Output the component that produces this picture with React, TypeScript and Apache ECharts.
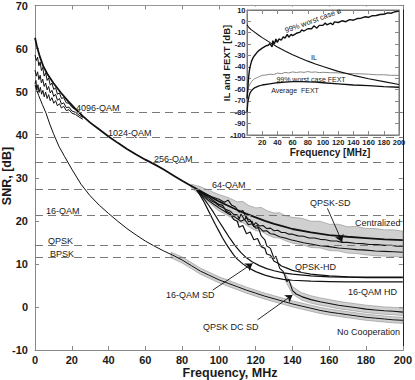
import { useEffect, useRef } from "react";
import * as echarts from "echarts";

type P = [number, number];

// ---------- main chart data (Frequency MHz, SNR dB) ----------
const thresholdNames = ["4096-QAM", "1024-QAM", "256-QAM", "64-QAM", "16-QAM", "QPSK", "BPSK"];
const thresholdValues = [45.3, 39.5, 33.5, 27.4, 21.35, 14.4, 11.45];

const centralized: P[] = [[0,62.5],[1,60.6],[2.5,58.3],[4.5,55.9],[7,53.9],[10,52],[14,49.8],[18,47.8],[22,46],[26,44.3],[30,42.8],[35,41.2],[40,39.6],[45,38.1],[50,36.7],[55,35.4],[60,34.2],[65,33.1],[70,31.9],[75,30.6],[80,29.3],[85,28.1],[90,26.9],[95,25.7],[100,24.5],[105,23.5],[110,22.5],[115,21.6],[120,20.8],[125,20.0],[130,19.3],[135,18.7],[140,18.1],[150,17.3],[160,16.7],[170,16.3],[180,16.0],[190,15.7],[200,15.5]];

const qpskSd: P[] = [[88,27.3],[90,26.6],[92,26.0],[94,25.2],[96,24.6],[98,24.2],[100,23.5],[102,23.1],[104,22.6],[106,22.3],[108,21.5],[110,21.4],[111,20.4],[112,21.6],[114,20.2],[115,21.0],[116,19.8],[118,19.9],[119,19.0],[120,19.6],[122,18.8],[124,18.9],[126,18.2],[128,18.3],[130,17.7],[132,17.8],[134,17.3],[136,17.3],[138,16.9],[140,16.9],[143,16.5],[146,16.4],[149,16.0],[152,16.0],[155,15.7],[158,15.6],[161,15.3],[164,15.3],[167,15.0],[170,15.0],[174,14.8],[178,14.7],[182,14.5],[186,14.5],[190,14.3],[194,14.3],[197,14.1],[200,14.1]];

const sdLower: P[] = [[88,27.2],[91,26.0],[94,24.8],[97,23.9],[100,23.0],[103,22.2],[106,21.4],[109,20.8],[112,19.9],[114,20.3],[116,19.1],[118,19.3],[120,18.3],[122,18.4],[124,17.6],[126,17.7],[128,17.0],[130,16.9],[133,16.3],[136,16.0],[139,15.6],[142,15.3],[146,14.9],[150,14.6],[155,14.2],[160,14.0],[165,13.7],[170,13.5],[175,13.3],[180,13.2],[185,13.0],[190,12.9],[195,12.8],[200,12.7]];

const qam16Hd: P[] = [[88,27.1],[90,25.8],[92,24.3],[94,22.6],[96,20.9],[98,19.2],[100,17.6],[102,16.0],[104,14.6],[106,13.3],[108,12.1],[110,11.1],[113,10.0],[116,9.1],[120,8.2],[125,7.4],[130,6.8],[135,6.4],[140,6.2],[150,6.0],[160,5.9],[170,5.8],[180,5.8],[190,5.8],[200,5.8]];

const qam16Sd: P[] = [[88,27.1],[91,25.6],[94,23.9],[97,22.0],[100,19.9],[103,17.9],[106,15.9],[109,14.1],[112,12.6],[115,11.4],[118,10.5],[122,9.6],[126,8.9],[130,8.4],[135,7.9],[140,7.6],[150,7.2],[160,7.0],[170,6.9],[180,6.8],[190,6.8],[200,6.8]];

const qpskHd: P[] = [[88,27.1],[92,26.2],[96,25.0],[100,23.8],[102,23.6],[104,22.2],[106,21.8],[108,20.3],[110,19.9],[111,18.5],[113,18.9],[115,17.0],[117,17.4],[119,15.6],[121,15.9],[123,14.0],[125,13.6],[126,12.3],[128,12.0],[130,10.6],[132,10.2],[134,9.5],[137,9.0],[140,8.5],[145,8.0],[150,7.6],[160,7.2],[170,7.0],[180,6.9],[190,6.9],[200,6.9]];

const qpskDcSd: P[] = [[88,27.1],[92,26.4],[96,25.6],[100,25.0],[103,24.3],[105,24.8],[107,23.6],[109,23.2],[111,22.0],[113,22.4],[115,20.6],[117,20.2],[119,18.6],[121,18.9],[123,16.5],[125,15.6],[126,14.2],[128,13.6],[130,11.2],[131,11.8],[133,9.0],[135,8.2],[137,5.9],[138,6.4],[140,3.8],[142,3.0],[145,2.4],[150,1.7],[155,1.2],[160,0.8],[165,0.4],[170,0.1],[175,-0.2],[180,-0.5],[185,-0.7],[190,-0.9],[195,-1.0],[200,-1.2]];

const noCooperation: P[] = [[0,51.5],[1,50.3],[2,49.1],[4,47],[6,45],[8,42.5],[10,40.3],[13,37.3],[16,35],[20,32.0],[25,28.5],[30,25.8],[35,23.6],[40,21.7],[45,19.9],[50,18.2],[55,16.7],[60,15.3],[65,14.1],[70,13.0],[75,12.0],[80,10.9],[85,9.6],[90,8.3],[95,7.3],[100,6.3],[105,5.5],[110,4.7],[115,3.9],[120,3.2],[125,2.5],[130,1.9],[135,1.3],[140,0.7],[145,0.2],[150,-0.3],[155,-0.8],[160,-1.2],[165,-1.5],[170,-1.8],[175,-2.1],[180,-2.4],[185,-2.6],[190,-2.8],[195,-3.0],[200,-3.1]];

const coopA: P[] = [[0,58.5],[0.7,57.2],[1.4,58.0],[2.1,56.0],[2.8,56.9],[3.5,54.9],[4.2,55.6],[5,53.6],[5.8,54.4],[6.6,52.6],[7.4,53.2],[8.3,51.5],[9.2,52.0],[10.2,50.5],[11.2,50.9],[12.2,49.4],[13.3,49.7],[14.4,48.4],[15.6,48.6],[17,47.4],[18.5,47.3],[20,46.4],[22,45.8],[24,45.0],[26,44.2]];
const coopB: P[] = [[0,55],[0.7,53.6],[1.4,54.6],[2.1,52.8],[2.8,53.8],[3.5,52.0],[4.2,52.9],[5,51.2],[5.8,52.0],[6.6,50.4],[7.4,51.2],[8.3,49.7],[9.2,50.3],[10.2,48.9],[11.2,49.4],[12.2,48.0],[13.3,48.4],[14.4,47.1],[15.6,47.4],[17,46.3],[18.5,46.4],[20,45.5],[22,45.2],[24,44.5],[26,44.0]];
const coopC: P[] = [[0,51.8],[0.5,52.6],[1.0,50.4],[1.6,51.6],[2.2,49.8],[2.9,51.0],[3.6,49.4],[4.3,50.3],[5,48.8],[5.8,49.9],[6.6,48.4],[7.4,49.3],[8.3,47.9],[9.2,48.6],[10.2,47.3],[11.2,47.9],[12.2,46.7],[13.3,47.2],[14.4,46.2],[15.6,46.6],[17,45.6],[18.5,45.8],[20,45.0],[22,44.7],[24,44.1],[26,43.6]];

// confidence bands (x, lower, upper)
const centralBandX = [85,90,95,100,105,110,113,116,120,123,126,130,133,136,140,145,150,155,160,165,170,175,180,185,190,195,200];
const centralBandUpper = [28.5,27.9,27.0,26.1,25.4,24.4,24.5,23.6,23.0,23.1,22.4,21.8,21.9,21.2,20.8,20.6,19.9,19.9,19.2,19.2,18.6,18.7,18.2,18.2,17.9,17.9,17.6];
const centralBandLower = [27.6,26.0,24.1,22.3,21.2,19.8,19.6,18.7,17.7,17.6,16.8,16.1,16.0,15.4,14.8,14.5,13.8,13.7,13.1,13.0,12.5,12.4,12.1,11.9,11.8,11.7,11.6];

const noCoopBandX = [74,80,85,90,95,100,105,110,115,120,125,130,135,140,145,150,155,160,165,170,175,180,185,190,195,200];
const noCoopBandUpper = [12.7,11.6,10.3,9.0,8.0,7.0,6.2,5.4,4.6,3.9,3.2,2.6,2.0,1.4,0.9,0.4,-0.1,-0.5,-0.8,-1.1,-1.4,-1.7,-1.9,-2.1,-2.3,-2.4];
const noCoopBandLower = [11.4,10.2,8.9,7.6,6.6,5.6,4.8,4.0,3.2,2.5,1.8,1.2,0.6,0.0,-0.5,-1.0,-1.5,-1.9,-2.2,-2.5,-2.8,-3.1,-3.3,-3.5,-3.7,-3.8];

const dcBandX = [136,140,145,150,155,160,165,170,175,180,185,190,195,200];
const dcBandUpper = [7.8,4.7,3.3,2.6,2.1,1.7,1.3,1.0,0.7,0.4,0.2,0.0,-0.1,-0.3];
const dcBandLower = [6.2,3.0,1.6,0.9,0.4,0.0,-0.4,-0.7,-1.0,-1.3,-1.5,-1.7,-1.8,-2.0];

// arrows: [fromX, fromY, toX, toY] in data units
const arrowQpskSd = [159, 22.9, 167, 15.1];
const arrowQam16Sd = [96.6, 3.9, 118.3, 10.1];
const arrowQpskDcSd = [121, -3.0, 140, 2.8];

const curveLabels = ["QPSK-SD", "Centralized", "QPSK-HD", "16-QAM HD", "16-QAM SD", "QPSK DC SD", "No Cooperation"];

// ---------- inset data (Frequency MHz, dB) ----------
const insetIL: P[] = [[0,-3],[2,-5],[5,-7],[10,-9.5],[15,-12],[20,-14.3],[30,-18.5],[40,-22.5],[50,-26],[60,-29.3],[70,-32.3],[80,-35],[90,-37.5],[100,-39.8],[120,-44],[140,-47.5],[160,-50.5],[180,-53],[200,-55.5]];
const insetAlpha99: P[] = [[0,-68],[1,-60],[2,-50],[3,-44],[4,-40],[6,-35],[8,-32],[10,-30],[13,-27.5],[16,-25.5],[20,-23.5],[25,-21.5],[28,-21],[30,-19.5],[33,-22.5],[34,-17],[36,-20],[38,-15.5],[40,-18.5],[42,-15.5],[45,-16.5],[48,-13.5],[50,-14.8],[53,-11.5],[55,-14],[58,-11.5],[60,-12.5],[65,-10.5],[70,-9.5],[72,-7.5],[75,-8.5],[80,-6.5],[85,-6.5],[88,-4],[90,-5],[92,-6],[95,-3.5],[100,-3.5],[103,-1.5],[105,-3],[110,-1.5],[113,-3],[115,-0.5],[120,-1],[125,0.5],[130,-0.3],[135,1.5],[140,1],[145,2.5],[150,2.8],[155,4],[160,3.6],[165,5],[170,5.2],[175,6],[180,6.2],[185,7.5],[190,7.2],[195,8.5],[200,9]];
const insetFext99: P[] = [[0,-68],[1,-62],[2,-58],[4,-55],[6,-53],[8,-51.5],[10,-50.5],[15,-49],[20,-47.5],[25,-47.2],[30,-46.5],[35,-46.8],[40,-45.5],[45,-46],[50,-45],[55,-45.4],[60,-44.5],[65,-45],[70,-44.5],[75,-44.9],[80,-44.2],[85,-44.8],[90,-44.5],[95,-45.1],[100,-44.8],[110,-45.2],[120,-45.3],[130,-45.8],[140,-46],[150,-46.2],[160,-46.5],[170,-47],[180,-47],[190,-47.5],[200,-47.5]];
const insetFextAvg: P[] = [[0,-80],[1,-72],[2,-68],[3,-65],[4,-63],[6,-61],[8,-59.5],[10,-58.5],[15,-57],[20,-56],[30,-55],[40,-54],[50,-53.5],[60,-53],[70,-53],[80,-53.2],[90,-53.5],[100,-54],[120,-55],[140,-56],[160,-56.5],[180,-57.5],[200,-58]];
const insetLabels = ["99% worst case \u03b1", "IL", "99% worst case FEXT", "Average  FEXT"];

// ---------- layout ----------
const FONT = '"Liberation Sans", Arial, Helvetica, sans-serif';
const MAIN = { left: 35, top: 5.5, width: 369, height: 344.5 };
const INSET = { left: 247, top: 10, width: 152, height: 125 };

const thresholdLabelPos: [number, number][] = [[76,107.5],[108,132.5],[154,158.5],[212,185],[46,211],[48,240.5],[50,253.5]];
const curveLabelPos: [number, number][] = [[310,203],[355,223],[295,266.5],[348,292],[166,295],[203,327],[337,332]];

function lineSeries(data: P[], color: string, width: number, xi: number, yi: number, z = 2) {
  return {
    type: "line", data, xAxisIndex: xi, yAxisIndex: yi, symbol: "none", showSymbol: false,
    lineStyle: { color, width }, z, silent: true, animation: false,
  };
}

function bandSeries(xs: number[], lower: number[], upper: number[]) {
  return {
    type: "custom", coordinateSystem: "cartesian2d", xAxisIndex: 0, yAxisIndex: 0, z: 1, silent: true,
    data: [[xs[0], lower[0]]],
    renderItem: (_params: any, api: any) => {
      const pts: number[][] = [];
      for (let i = 0; i < xs.length; i++) pts.push(api.coord([xs[i], upper[i]]));
      for (let i = xs.length - 1; i >= 0; i--) pts.push(api.coord([xs[i], lower[i]]));
      return {
        type: "polygon", shape: { points: pts },
        style: { fill: "#d0d0d0", stroke: "#9a9a9a", lineWidth: 0.7 },
      };
    },
  };
}

function arrowData(a: number[]) {
  return [{ coord: [a[0], a[1]] }, { coord: [a[2], a[3]] }];
}

function axis(gridIndex: number, position: string, min: number, max: number, interval: number, label: any, color: string, z: number) {
  return {
    type: "value", gridIndex, position, min, max, interval, z,
    axisLine: { show: true, onZero: false, lineStyle: { color, width: 1 } },
    axisTick: { show: true, inside: true, length: 4, lineStyle: { color: "#888" } },
    axisLabel: label,
    splitLine: { show: false },
  };
}

function text(t: string, x: number, y: number, size: number, opts: any = {}) {
  return {
    type: "text", x, y, z: opts.z ?? 4, zlevel: 0, rotation: opts.rotation ?? 0, silent: true,
    style: {
      text: t, fontSize: size, fontFamily: FONT, fontWeight: opts.bold ? "bold" : "normal",
      fill: opts.fill ?? "#1a1a1a", align: opts.align ?? "left", verticalAlign: "middle",
    },
  };
}

export default function App() {
  const ref = useRef<HTMLDivElement>(null);
  useEffect(() => {
    if (!ref.current) return;
    const chart = echarts.init(ref.current, null, { renderer: "svg", width: 415, height: 380 });
    const mainLabel = { show: true, margin: 4, fontSize: 11, fontWeight: "bold", color: "#1a1a1a", fontFamily: FONT };
    const mainYLabel = { ...mainLabel, margin: 7 };
    const insetXLabel = { show: true, margin: 3, fontSize: 7.5, fontWeight: "bold", color: "#1a1a1a", fontFamily: FONT, formatter: (v: number) => (v === 0 ? "" : String(v)) };
    const insetYLabel = { show: true, margin: 1.5, fontSize: 7.5, fontWeight: "bold", color: "#1a1a1a", fontFamily: FONT };
    const off = { show: false };

    const option: any = {
      animation: false,
      backgroundColor: "#fff",
      grid: [
        { ...MAIN, show: false, containLabel: false },
        { ...INSET, show: true, backgroundColor: "#fff", borderColor: "#777", borderWidth: 1, z: 6, containLabel: false },
      ],
      xAxis: [
        axis(0, "bottom", 0, 200, 20, mainLabel, "#888", 0),
        axis(0, "top", 0, 200, 20, off, "#999", 0),
        axis(1, "bottom", 0, 200, 20, insetXLabel, "#777", 7),
        axis(1, "top", 0, 200, 20, off, "#777", 7),
      ],
      yAxis: [
        axis(0, "left", -10, 70, 10, mainYLabel, "#888", 0),
        axis(0, "right", -10, 70, 10, off, "#222", 0),
        axis(1, "left", -100, 10, 10, insetYLabel, "#777", 7),
        axis(1, "right", -100, 10, 10, off, "#777", 7),
      ],
      series: [
        bandSeries(centralBandX, centralBandLower, centralBandUpper),
        bandSeries(noCoopBandX, noCoopBandLower, noCoopBandUpper),
        bandSeries(dcBandX, dcBandLower, dcBandUpper),
        {
          ...lineSeries(noCooperation, "#111", 1, 0, 0),
          markLine: {
            silent: true, symbol: "none", animation: false,
            label: { show: false },
            lineStyle: { type: [8, 5], color: "#7a7a7a", width: 1.2 },
            data: thresholdValues.map((v) => ({ yAxis: v })),
          },
        },
        lineSeries(coopA, "#111", 1, 0, 0),
        lineSeries(coopB, "#111", 1, 0, 0),
        lineSeries(coopC, "#111", 1, 0, 0),
        lineSeries(sdLower, "#111", 1.1, 0, 0),
        lineSeries(qpskSd, "#111", 1.1, 0, 0),
        lineSeries(qam16Hd, "#111", 1.2, 0, 0),
        lineSeries(qam16Sd, "#111", 1.2, 0, 0),
        lineSeries(qpskHd, "#111", 1.2, 0, 0),
        lineSeries(qpskDcSd, "#111", 1.1, 0, 0),
        {
          ...lineSeries(centralized, "#111", 1.8, 0, 0),
          markLine: {
            silent: true, symbol: ["none", "arrow"], symbolSize: 7, animation: false,
            label: { show: false },
            lineStyle: { type: "solid", color: "#111", width: 0.9 },
            data: [arrowData(arrowQpskSd), arrowData(arrowQam16Sd), arrowData(arrowQpskDcSd)],
          },
        },
        lineSeries(insetFext99, "#8a8a8a", 1, 2, 2, 8),
        lineSeries(insetFextAvg, "#111", 1.3, 2, 2, 8),
        lineSeries(insetIL, "#111", 1.1, 2, 2, 8),
        lineSeries(insetAlpha99, "#111", 1.4, 2, 2, 8),
      ],
      graphic: [
        { type: "rect", z: 5, silent: true, shape: { x: 220, y: 6.5, width: 183, height: 151 }, style: { fill: "#fff" } },
        ...thresholdNames.map((n, i) => text(n, thresholdLabelPos[i][0], thresholdLabelPos[i][1], 9)),
        ...curveLabels.map((n, i) => text(n, curveLabelPos[i][0], curveLabelPos[i][1], 9)),
        text("SNR, [dB]", 7, 176, 12.5, { bold: true, align: "center", rotation: Math.PI / 2 }),
        text("Frequency, MHz", 230, 373, 12.5, { bold: true, align: "center" }),
        text(insetLabels[0], 313, 20.5, 7.5, { align: "center", rotation: 0.35, z: 9 }),
        text(insetLabels[1], 311, 57.5, 7.5, { z: 9 }),
        text(insetLabels[2], 311, 79, 7, { align: "center", z: 9 }),
        text(insetLabels[3], 295, 90.7, 7, { align: "center", z: 9 }),
        text("IL and FEXT [dB]", 226.5, 63, 9.5, { bold: true, align: "center", rotation: Math.PI / 2, z: 9 }),
        text("Frequency [MHz]", 330, 152, 10, { bold: true, align: "center", z: 9 }),
      ],
    };
    chart.setOption(option);
    return () => chart.dispose();
  }, []);
  return (
    <div
      ref={ref}
      style={{ position: "fixed", left: 0, top: 0, width: 415, height: 380, background: "#fff" }}
    />
  );
}
